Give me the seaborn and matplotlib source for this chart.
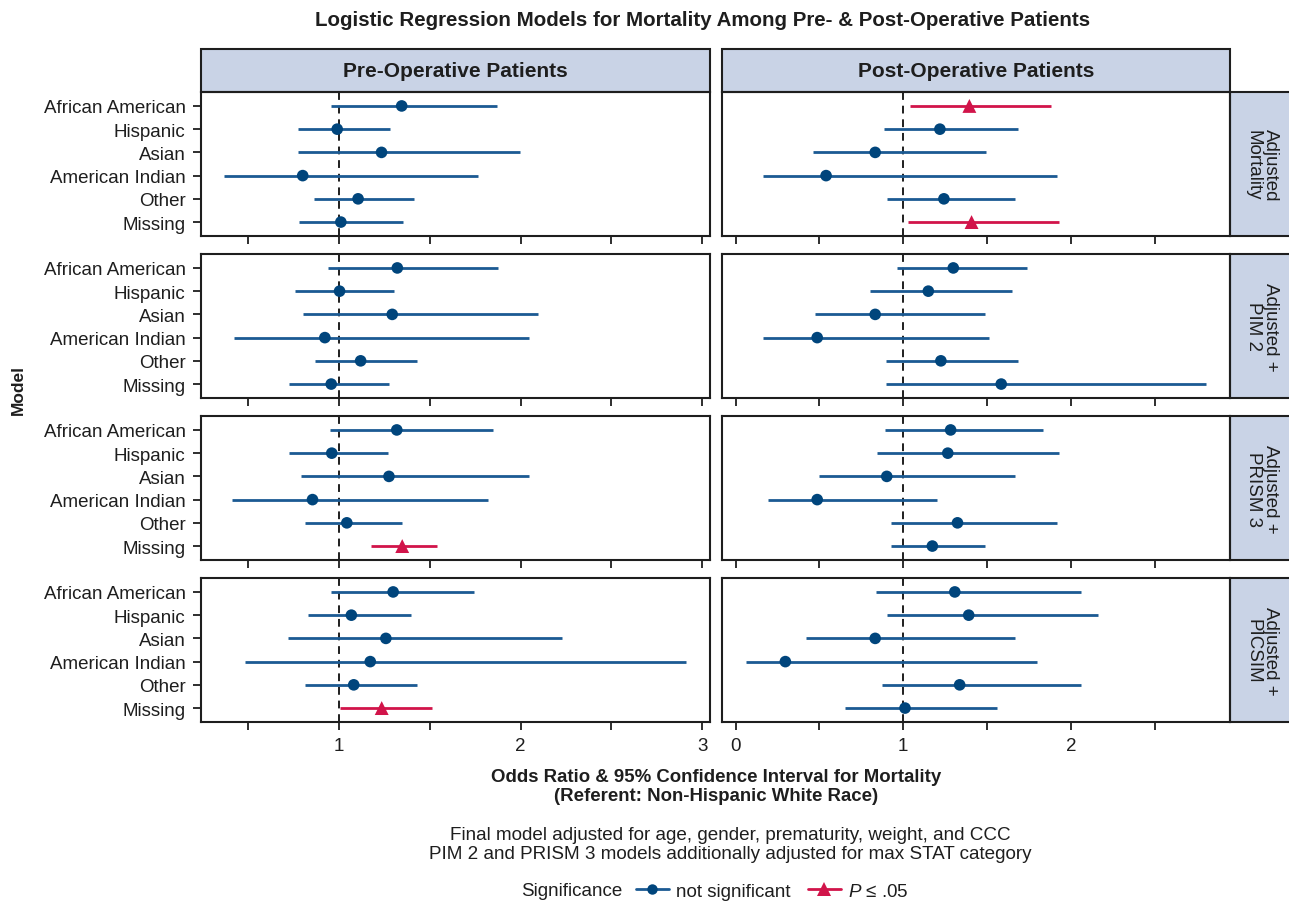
import pandas as pd
import matplotlib.pyplot as plt
import seaborn as sns
from matplotlib.patches import Rectangle
from matplotlib.lines import Line2D

races = ["African American", "Hispanic", "Asian", "American Indian", "Other", "Missing"]
models = ["Adjusted\nMortality", "Adjusted +\nPIM 2", "Adjusted +\nPRISM 3", "Adjusted +\nPICSIM"]
groups = ["Pre-Operative Patients", "Post-Operative Patients"]

# odds ratios and 95% CI, one list per model row
pre_or = [[1.345, 0.99, 1.234, 0.80, 1.105, 1.01],
          [1.321, 1.003, 1.293, 0.922, 1.119, 0.957],
          [1.318, 0.960, 1.275, 0.854, 1.043, 1.348],
          [1.298, 1.068, 1.258, 1.172, 1.081, 1.235]]
pre_lo = [[0.954, 0.772, 0.772, 0.368, 0.86, 0.782],
          [0.937, 0.758, 0.803, 0.419, 0.866, 0.725],
          [0.952, 0.725, 0.790, 0.409, 0.811, 1.177],
          [0.957, 0.831, 0.717, 0.480, 0.813, 1.008]]
pre_hi = [[1.87, 1.28, 1.995, 1.766, 1.415, 1.352],
          [1.876, 1.303, 2.096, 2.048, 1.432, 1.273],
          [1.848, 1.270, 2.045, 1.823, 1.346, 1.540],
          [1.745, 1.396, 2.227, 2.909, 1.427, 1.510]]
pre_sig = [[0, 0, 0, 0, 0, 0],
           [0, 0, 0, 0, 0, 0],
           [0, 0, 0, 0, 0, 1],
           [0, 0, 0, 0, 0, 1]]

post_or = [[1.395, 1.219, 0.833, 0.540, 1.243, 1.408],
           [1.299, 1.150, 0.833, 0.487, 1.225, 1.585],
           [1.283, 1.266, 0.902, 0.487, 1.324, 1.174],
           [1.308, 1.391, 0.833, 0.297, 1.337, 1.011]]
post_lo = [[1.038, 0.886, 0.462, 0.163, 0.902, 1.029],
           [0.964, 0.804, 0.473, 0.163, 0.895, 0.895],
           [0.893, 0.844, 0.498, 0.196, 0.929, 0.929],
           [0.837, 0.904, 0.422, 0.060, 0.875, 0.654]]
post_hi = [[1.882, 1.688, 1.496, 1.92, 1.67, 1.931],
           [1.741, 1.650, 1.487, 1.513, 1.688, 2.804],
           [1.833, 1.929, 1.670, 1.201, 1.917, 1.487],
           [2.063, 2.163, 1.670, 1.797, 2.063, 1.560]]
post_sig = [[1, 0, 0, 0, 0, 1],
            [0, 0, 0, 0, 0, 0],
            [0, 0, 0, 0, 0, 0],
            [0, 0, 0, 0, 0, 0]]

sig_labels = ["not significant", "$\\mathit{P}$ \u2264 .05"]

rows = []
for g_name, ors, los, his, sigs in [(groups[0], pre_or, pre_lo, pre_hi, pre_sig),
                                    (groups[1], post_or, post_lo, post_hi, post_sig)]:
    for m, model in enumerate(models):
        for r, race in enumerate(races):
            rows.append({"model": model, "group": g_name, "race": race,
                         "or_": ors[m][r], "lo": los[m][r], "hi": his[m][r],
                         "sig": sig_labels[sigs[m][r]]})
df = pd.DataFrame(rows)

BLUE = "#00457c"
BLUE_LINE = "#1b5a93"
RED = "#d1144a"
STRIP = "#c9d3e6"
DARK = "#1e1e1e"

sns.set_style("ticks")
plt.rcParams["font.family"] = ["Liberation Sans", "DejaVu Sans"]
plt.rcParams["mathtext.fontset"] = "custom"
plt.rcParams["mathtext.rm"] = "Liberation Sans"
plt.rcParams["mathtext.it"] = "Liberation Sans:italic"

FS = 13.5


def draw_ci(data, **kws):
    ax = plt.gca()
    data = data.set_index("race").loc[races].reset_index()
    line_cols = [RED if s == sig_labels[1] else BLUE_LINE for s in data["sig"]]
    ax.hlines(data["race"], data["lo"], data["hi"], colors=line_cols, lw=2, zorder=2)
    ax.axvline(1, color=DARK, ls=(0, (4, 3)), lw=1.4, zorder=1)
    sns.scatterplot(data=data, x="or_", y="race", hue="sig", style="sig",
                    hue_order=sig_labels, style_order=sig_labels,
                    palette={sig_labels[0]: BLUE, sig_labels[1]: RED},
                    markers={sig_labels[0]: "o", sig_labels[1]: "^"},
                    size="sig", sizes={sig_labels[0]: 70, sig_labels[1]: 100},
                    linewidth=0, legend=False, ax=ax, zorder=3)


g = sns.FacetGrid(df, row="model", col="group", row_order=models, col_order=groups,
                  sharex="col", sharey=True, height=2, aspect=2)
g.map_dataframe(draw_ci)

fig = g.figure
fig.set_size_inches(12.89, 9.03)
fig.subplots_adjust(left=201 / 1289, right=1230 / 1289, top=1 - 93 / 903,
                    bottom=1 - 723 / 903, wspace=12 / 508.5, hspace=18 / 144)

for i, model in enumerate(models):
    for j, grp in enumerate(groups):
        ax = g.axes[i, j]
        ax.set_title("")
        ax.set_xlabel("")
        ax.set_ylabel("")
        ax.set_ylim(5.6, -0.6)
        for sp in ax.spines.values():
            sp.set_visible(True)
            sp.set_color(DARK)
            sp.set_linewidth(1.5)
        if j == 0:
            ax.set_xlim(0.24, 3.04)
            ax.set_xticks([1, 2, 3])
            ax.set_xticks([0.5, 1.5, 2.5], minor=True)
        else:
            ax.set_xlim(-0.084, 2.95)
            ax.set_xticks([0, 1, 2])
            ax.set_xticks([0.5, 1.5, 2.5], minor=True)
        ax.tick_params(axis="x", which="both", length=6, width=1.3, color=DARK,
                       labelsize=FS, labelcolor=DARK, direction="out", pad=5)
        ax.tick_params(axis="y", length=6 if j == 0 else 0, width=1.3, color=DARK,
                       labelsize=FS, labelcolor=DARK, pad=5)
        if i == 0:
            ax.add_patch(Rectangle((0, 1), 1, 43 / 144, transform=ax.transAxes,
                                   facecolor=STRIP, edgecolor=DARK, lw=1.5, clip_on=False))
            ax.text(0.5, 1 + 21.5 / 144, grp, transform=ax.transAxes, ha="center",
                    va="center", fontsize=15, fontweight="bold", color=DARK)
        if j == 1:
            ax.add_patch(Rectangle((1, 0), 0.2, 1, transform=ax.transAxes,
                                   facecolor=STRIP, edgecolor=DARK, lw=1.5, clip_on=False))
            ax.text(1 + 32 / 508.5, 0.5, model, transform=ax.transAxes, ha="center",
                    va="center", rotation=270, fontsize=FS, color=DARK, linespacing=1.05)

fig.text(0.545, 1 - 20 / 903, "Logistic Regression Models for Mortality Among Pre- & Post-Operative Patients",
         ha="center", va="center", fontsize=14.8, fontweight="bold", color=DARK)
fig.text(18 / 1289, 1 - 390 / 903, "Model", rotation=90, ha="center", va="center",
         fontsize=12.5, fontweight="bold", color=DARK)
fig.text(716 / 1289, 1 - 787 / 903,
         "Odds Ratio & 95% Confidence Interval for Mortality\n(Referent: Non-Hispanic White Race)",
         ha="center", va="center", fontsize=13.4, fontweight="bold", color=DARK, linespacing=1.15)
fig.text(730 / 1289, 1 - 845 / 903,
         "Final model adjusted for age, gender, prematurity, weight, and CCC\n"
         "PIM 2 and PRISM 3 models additionally adjusted for max STAT category",
         ha="center", va="center", fontsize=13.6, color=DARK, linespacing=1.22)

fig.text(622 / 1289, 1 - 892 / 903, "Significance", ha="right", va="center",
         fontsize=FS, color=DARK)
handles = [Line2D([], [], color=BLUE_LINE, lw=2, marker="o", markersize=7.5,
                  markerfacecolor=BLUE, markeredgewidth=0),
           Line2D([], [], color=RED, lw=2, marker="^", markersize=9.5,
                  markerfacecolor=RED, markeredgewidth=0)]
fig.legend(handles, sig_labels, loc="center left", bbox_to_anchor=(636 / 1289, 1 - 892 / 903),
           ncol=2, frameon=False, handlelength=1.75, columnspacing=0.9, handletextpad=0.4,
           borderaxespad=0, borderpad=0, fontsize=FS, labelcolor=DARK)

fig.savefig("out.png", dpi=100)
